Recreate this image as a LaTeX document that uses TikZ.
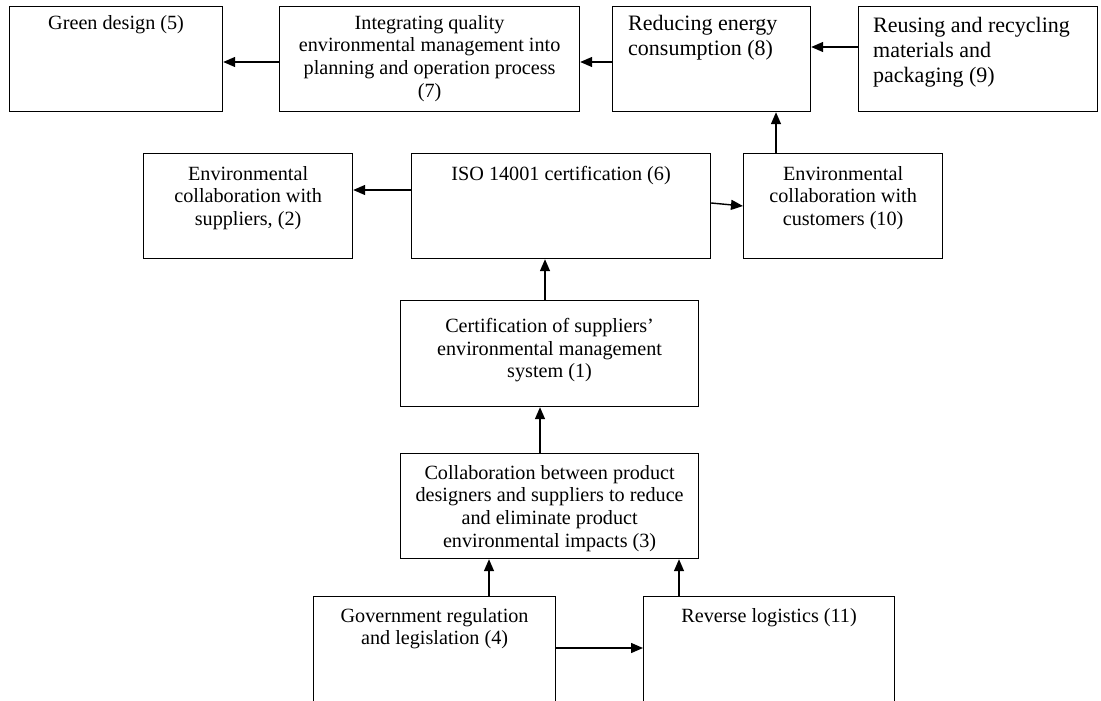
\documentclass[tikz,border=0pt]{standalone}
\usepackage{fontspec}
\setmainfont{Liberation Serif}
\usetikzlibrary{arrows.meta}
\tikzset{
  box/.style={draw, line width=1.2pt, inner sep=0pt, anchor=north west},
  lbl/.style={inner sep=0pt, align=center, font=\fontsize{20.2}{22.6}\selectfont},
  lblbig/.style={inner sep=0pt, align=left, font=\fontsize{22}{25}\selectfont},
  arr/.style={line width=1.4pt, -{Triangle[length=12pt,width=10pt]}}
}
\begin{document}
\begin{tikzpicture}[x=1pt,y=-1pt]
\useasboundingbox (0,0) rectangle (1101,701);
% top row
\node[box, minimum width=213pt, minimum height=105pt,
  label={[lbl, anchor=north, yshift=-9pt]north:{Green design (5)}}] (b5) at (9,6) {};
\node[box, minimum width=300pt, minimum height=105pt,
  label={[lbl, anchor=north, yshift=-9pt]north:{Integrating quality\\environmental management into\\planning and operation process\\(7)}}] (b7) at (279,6) {};
\node[box, minimum width=198pt, minimum height=105pt,
  label={[lblbig, anchor=north west, xshift=16pt, yshift=-9pt]north west:{Reducing energy\\consumption (8)}}] (b8) at (612,6) {};
\node[box, minimum width=239pt, minimum height=105pt,
  label={[lblbig, anchor=north west, xshift=15pt, yshift=-11pt]north west:{Reusing and recycling\\materials and\\packaging (9)}}] (b9) at (858,6) {};
% second row
\node[box, minimum width=209pt, minimum height=105pt,
  label={[lbl, anchor=north, yshift=-13pt]north:{Environmental\\collaboration with\\suppliers, (2)}}] (b2) at (143,153) {};
\node[box, minimum width=299pt, minimum height=105pt,
  label={[lbl, anchor=north, yshift=-13pt]north:{ISO 14001 certification (6)}}] (b6) at (411,153) {};
\node[box, minimum width=199pt, minimum height=105pt,
  label={[lbl, anchor=north, yshift=-13pt]north:{Environmental\\collaboration with\\customers (10)}}] (b10) at (743,153) {};
% middle column
\node[box, minimum width=298pt, minimum height=106pt,
  label={[lbl, anchor=north, yshift=-18pt]north:{Certification of suppliers’\\environmental management\\system (1)}}] (b1) at (400,300) {};
\node[box, minimum width=298pt, minimum height=105pt,
  label={[lbl, anchor=north, yshift=-12pt]north:{Collaboration between product\\designers and suppliers to reduce\\and eliminate product\\environmental impacts (3)}}] (b3) at (400,453) {};
% bottom row
\node[box, minimum width=242pt, minimum height=108pt,
  label={[lbl, anchor=north, yshift=-12pt]north:{Government regulation\\and legislation (4)}}] (b4) at (313,596) {};
\node[box, minimum width=251pt, minimum height=108pt,
  label={[lbl, anchor=north, yshift=-12pt]north:{Reverse logistics (11)}}] (b11) at (643,596) {};
% connectors
\draw[arr] (b7.west |- 0,62) -- (b5.east |- 0,62);
\draw[arr] (b8.west |- 0,62) -- (b7.east |- 0,62);
\draw[arr] (b9.west |- 0,47) -- (b8.east |- 0,47);
\draw[arr] (b10.north -| 776,0) -- (b8.south -| 776,0);
\draw[arr] (b6.west |- 0,190) -- (b2.east |- 0,190);
\draw[arr] (b6.east |- 0,203) -- (b10.west |- 0,206);
\draw[arr] (b1.north -| 545,0) -- (b6.south -| 545,0);
\draw[arr] (b3.north -| 540,0) -- (b1.south -| 540,0);
\draw[arr] (b4.north -| 489,0) -- (b3.south -| 489,0);
\draw[arr] (b11.north -| 679,0) -- (b3.south -| 679,0);
\draw[arr] (b4.east |- 0,648) -- (b11.west |- 0,648);
\end{tikzpicture}
\end{document}
